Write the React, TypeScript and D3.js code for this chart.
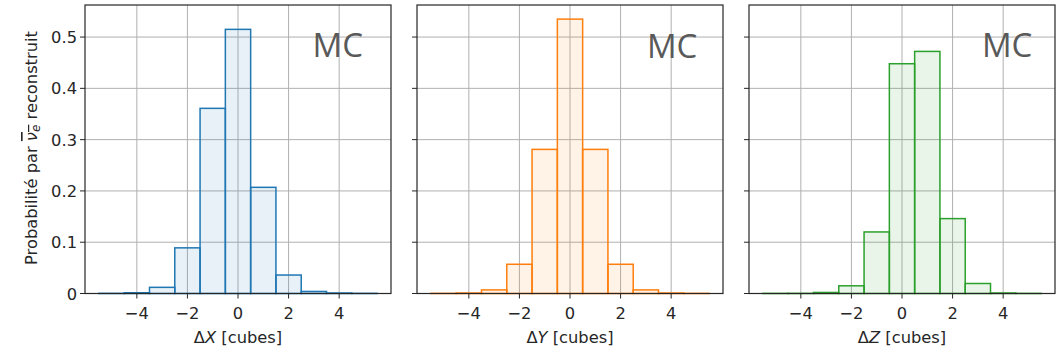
import React from "react";
import * as d3 from "d3";

// Bin centres (cubes) for the residual histograms
const binCenters = [-5, -4, -3, -2, -1, 0, 1, 2, 3, 4, 5];
// Normalised probabilities per bin for each coordinate
const probX = [0.0003, 0.0015, 0.012, 0.089, 0.361, 0.515, 0.207, 0.036, 0.004, 0.001, 0.0003];
const probY = [0.0003, 0.001, 0.007, 0.057, 0.281, 0.535, 0.281, 0.057, 0.007, 0.001, 0.0003];
const probZ = [0.0002, 0.0003, 0.002, 0.015, 0.12, 0.448, 0.472, 0.146, 0.0195, 0.001, 0.0002];

const xTicks = [-4, -2, 0, 2, 4];
const yTicks = [0, 0.1, 0.2, 0.3, 0.4, 0.5];
const axisNames = ["X", "Y", "Z"];
const seriesColors = ["#1f77b4", "#ff7f0e", "#2ca02c"];
const panelData = [probX, probY, probZ];
// "MC" label anchor per panel (data x, pixel baseline)
const mcAnchorX = [2.95, 3.04, 3.16];
const mcBaseline = [57, 57.5, 57];

const W = 1058;
const H = 354;
const panelLefts = [85, 417, 749];
const panelWidth = 306;
const top = 5;
const bottom = 293.5;
const labelSize = 16.3;

const fmtY = (v: number) => (v === 0 ? "0" : d3.format(".1f")(v));
const fmtX = (v: number) => (v < 0 ? "\u2212" + Math.abs(v) : String(v));

function Panel({ idx }: { idx: number }) {
  const left = panelLefts[idx];
  const right = left + panelWidth;
  const x = d3.scaleLinear().domain([-6.05, 6.05]).range([left, right]);
  const y = d3.scaleLinear().domain([0, 0.5625]).range([bottom, top]);
  const color = seriesColors[idx];
  const values = panelData[idx];
  const font = "DejaVu Sans";
  return (
    <g>
      {/* grid */}
      {xTicks.map((t) => (
        <line key={"gx" + t} x1={x(t)} x2={x(t)} y1={top} y2={bottom} stroke="#b0b0b0" strokeWidth={1} />
      ))}
      {yTicks.map((t) => (
        <line key={"gy" + t} x1={left} x2={right} y1={y(t)} y2={y(t)} stroke="#b0b0b0" strokeWidth={1} />
      ))}
      {/* bars */}
      {binCenters.map((c, i) => (
        <rect
          key={"b" + c}
          x={x(c - 0.5)}
          y={y(values[i])}
          width={x(c + 0.5) - x(c - 0.5)}
          height={y(0) - y(values[i])}
          fill={color}
          fillOpacity={0.1}
          stroke={color}
          strokeWidth={1.5}
        />
      ))}
      {/* frame */}
      <rect x={left} y={top} width={panelWidth} height={bottom - top} fill="none" stroke="#262626" strokeWidth={1.2} />
      {/* ticks */}
      {xTicks.map((t) => (
        <g key={"tx" + t}>
          <line x1={x(t)} x2={x(t)} y1={bottom} y2={bottom + 5} stroke="#262626" strokeWidth={1} />
          <text x={x(t)} y={bottom + 25.5} textAnchor="middle" fontFamily={font} fontSize={labelSize} fill="#262626">
            {fmtX(t)}
          </text>
        </g>
      ))}
      {yTicks.map((t) => (
        <g key={"ty" + t}>
          <line x1={left - 5} x2={left} y1={y(t)} y2={y(t)} stroke="#262626" strokeWidth={1} />
          {idx === 0 && (
            <text x={left - 8} y={y(t) + 6} textAnchor="end" fontFamily={font} fontSize={labelSize} fill="#262626">
              {fmtY(t)}
            </text>
          )}
        </g>
      ))}
      <text x={(left + right) / 2} y={343} textAnchor="middle" fontFamily={font} fontSize={labelSize} fill="#262626">
        {"\u0394"}
        <tspan fontStyle="italic">{axisNames[idx]}</tspan>
        {" [cubes]"}
      </text>
      <text
        x={x(mcAnchorX[idx])}
        y={mcBaseline[idx]}
        fontFamily="Open Sans"
        fontSize={33}
        fill="#595959"
      >
        MC
      </text>
    </g>
  );
}

export default function App() {
  return (
    <svg
      width={W}
      height={H}
      style={{ position: "absolute", left: 0, top: 0, background: "#fff" }}
    >
      <rect width={W} height={H} fill="#fff" />
      {[0, 1, 2].map((i) => (
        <Panel key={i} idx={i} />
      ))}
      <text
        transform="translate(37,148) rotate(-90)"
        textAnchor="middle"
        fontFamily="DejaVu Sans"
        fontSize={labelSize}
        fill="#262626"
      >
        {"Probabilit\u00e9 par "}
        <tspan fontStyle="italic" style={{ textDecoration: "overline" }}>
          {"\u03bd"}
          <tspan dy={3} fontSize={12}>e</tspan>
        </tspan>
        <tspan dy={-3}>{" reconstruit"}</tspan>
      </text>
    </svg>
  );
}
